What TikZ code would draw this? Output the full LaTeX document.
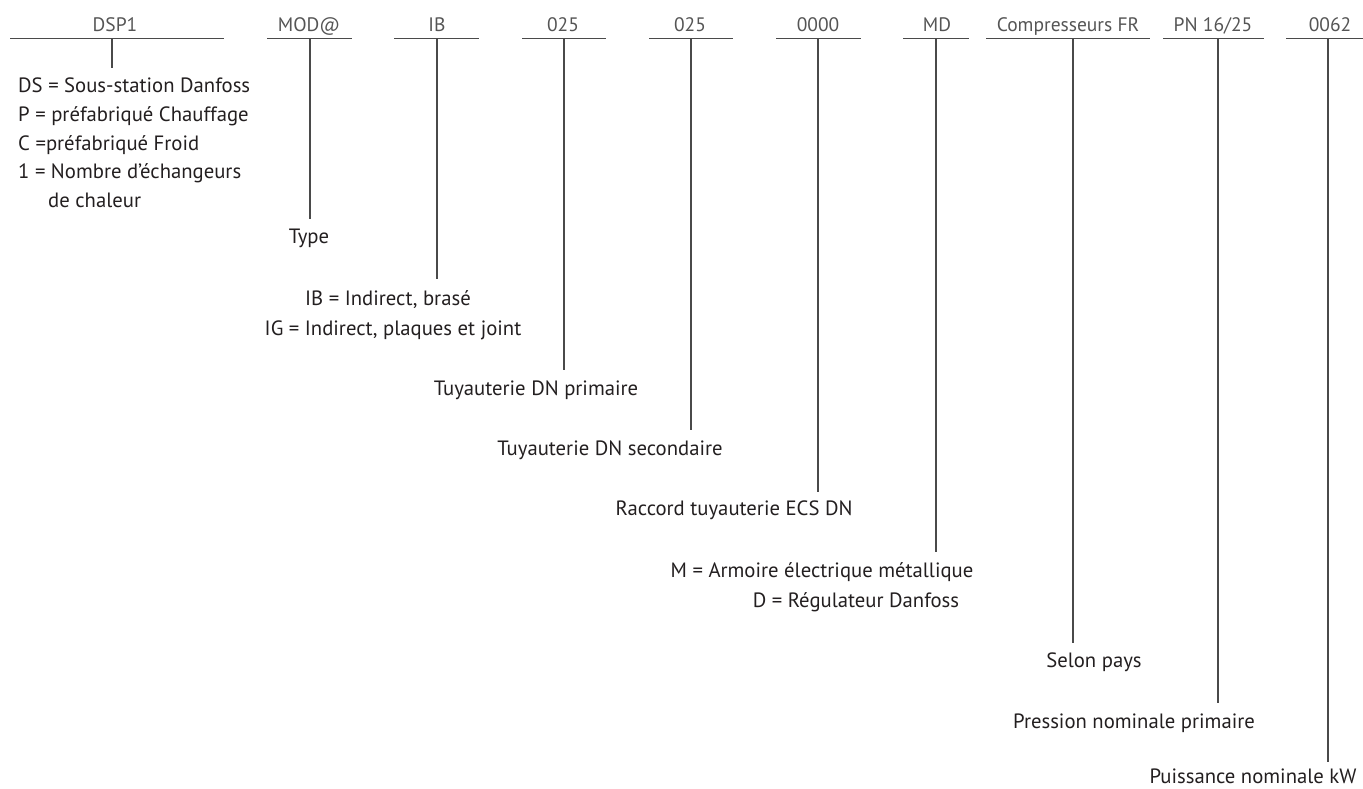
\documentclass[tikz,border=0pt]{standalone}
\usepackage{fontspec}
\setmainfont{PT Sans}
\definecolor{ink}{HTML}{231F20}
\definecolor{rule}{HTML}{4A4A4A}
\definecolor{lighttxt}{HTML}{555555}
\begin{document}
\begin{tikzpicture}[x=1pt,y=-1pt,
  code/.style={anchor=base,inner sep=0pt,font=\fontsize{19.5}{24}\selectfont,text=lighttxt},
  desc/.style={anchor=base,inner sep=0pt,font=\fontsize{20.7}{24}\selectfont,text=ink},
  descl/.style={desc,anchor=base west},
  bar/.style={draw=rule,line width=1.3pt},
  stem/.style={draw=rule,line width=1.1pt}]
\useasboundingbox (0,0) rectangle (1363,789);
% code labels
\node[code] (c1) at (115,32) {DSP1};
\node[code] (c2) at (309,32) {MOD@};
\node[code] (c3) at (437,32) {IB};
\node[code] (c4) at (563,32) {025};
\node[code] (c5) at (690,32) {025};
\node[code] (c6) at (818,32) {0000};
\node[code] (c7) at (937,32) {MD};
\node[code] (c8) at (1068,32) {Compresseurs FR};
\node[code] (c9) at (1213,32) {PN 16/25};
\node[code] (c10) at (1330,32) {0062};
% bars
\coordinate (b1l) at (10,38.5);   \coordinate (b1r) at (224,38.5);
\coordinate (b2l) at (267,38.5);  \coordinate (b2r) at (352,38.5);
\coordinate (b3l) at (394,38.5);  \coordinate (b3r) at (479,38.5);
\coordinate (b4l) at (522,38.5);  \coordinate (b4r) at (606,38.5);
\coordinate (b5l) at (649,38.5);  \coordinate (b5r) at (733,38.5);
\coordinate (b6l) at (776,38.5);  \coordinate (b6r) at (861,38.5);
\coordinate (b7l) at (903,38.5);  \coordinate (b7r) at (969,38.5);
\coordinate (b8l) at (986,38.5);  \coordinate (b8r) at (1150,38.5);
\coordinate (b9l) at (1163,38.5); \coordinate (b9r) at (1264,38.5);
\coordinate (b10l) at (1286,38.5); \coordinate (b10r) at (1363,38.5);
\foreach \i in {1,...,10} {\draw[bar] (b\i l) -- (b\i r);}
% stems
\coordinate (s1a) at (112,38.5);  \coordinate (s1b) at (112,68);
\coordinate (s2a) at (310,38.5);  \coordinate (s2b) at (310,219);
\coordinate (s3a) at (437,38.5);  \coordinate (s3b) at (437,279);
\coordinate (s4a) at (564,38.5);  \coordinate (s4b) at (564,370);
\coordinate (s5a) at (691,38.5);  \coordinate (s5b) at (691,430);
\coordinate (s6a) at (818,38.5);  \coordinate (s6b) at (818,492);
\coordinate (s7a) at (936,38.5);  \coordinate (s7b) at (936,552);
\coordinate (s8a) at (1073,38.5); \coordinate (s8b) at (1073,643);
\coordinate (s9a) at (1218,38.5); \coordinate (s9b) at (1218,703);
\coordinate (s10a) at (1328,38.5); \coordinate (s10b) at (1328,762);
\foreach \i in {1,...,10} {\draw[stem] (s\i a) -- (s\i b);}
% descriptions
\node[descl] (d1a) at (18,93) {DS = Sous-station Danfoss};
\node[descl] (d1b) at (18,121.5) {P = préfabriqué Chauffage};
\node[descl] (d1c) at (18,150) {C =préfabriqué Froid};
\node[descl] (d1d) at (18,178.5) {1 = Nombre d’échangeurs};
\node[descl] (d1e) at (48,207) {de chaleur};
\node[desc] (d2) at (309,243) {Type};
\node[desc] (d3a) at (388,305) {IB = Indirect, brasé};
\node[desc] (d3b) at (393,335) {IG = Indirect, plaques et joint};
\node[desc] (d4) at (536,395) {Tuyauterie DN primaire};
\node[desc] (d5) at (610,455) {Tuyauterie DN secondaire};
\node[desc] (d6) at (734,515) {Raccord tuyauterie ECS DN};
\node[desc] (d7a) at (822,577) {M = Armoire électrique métallique};
\node[desc] (d7b) at (856,607) {D = Régulateur Danfoss};
\node[desc] (d8) at (1094,667) {Selon pays};
\node[desc] (d9) at (1134,728) {Pression nominale primaire};
\node[desc,text depth=0pt] (d10) at (1253,783) {Puissance nominale kW};
\end{tikzpicture}
\end{document}
